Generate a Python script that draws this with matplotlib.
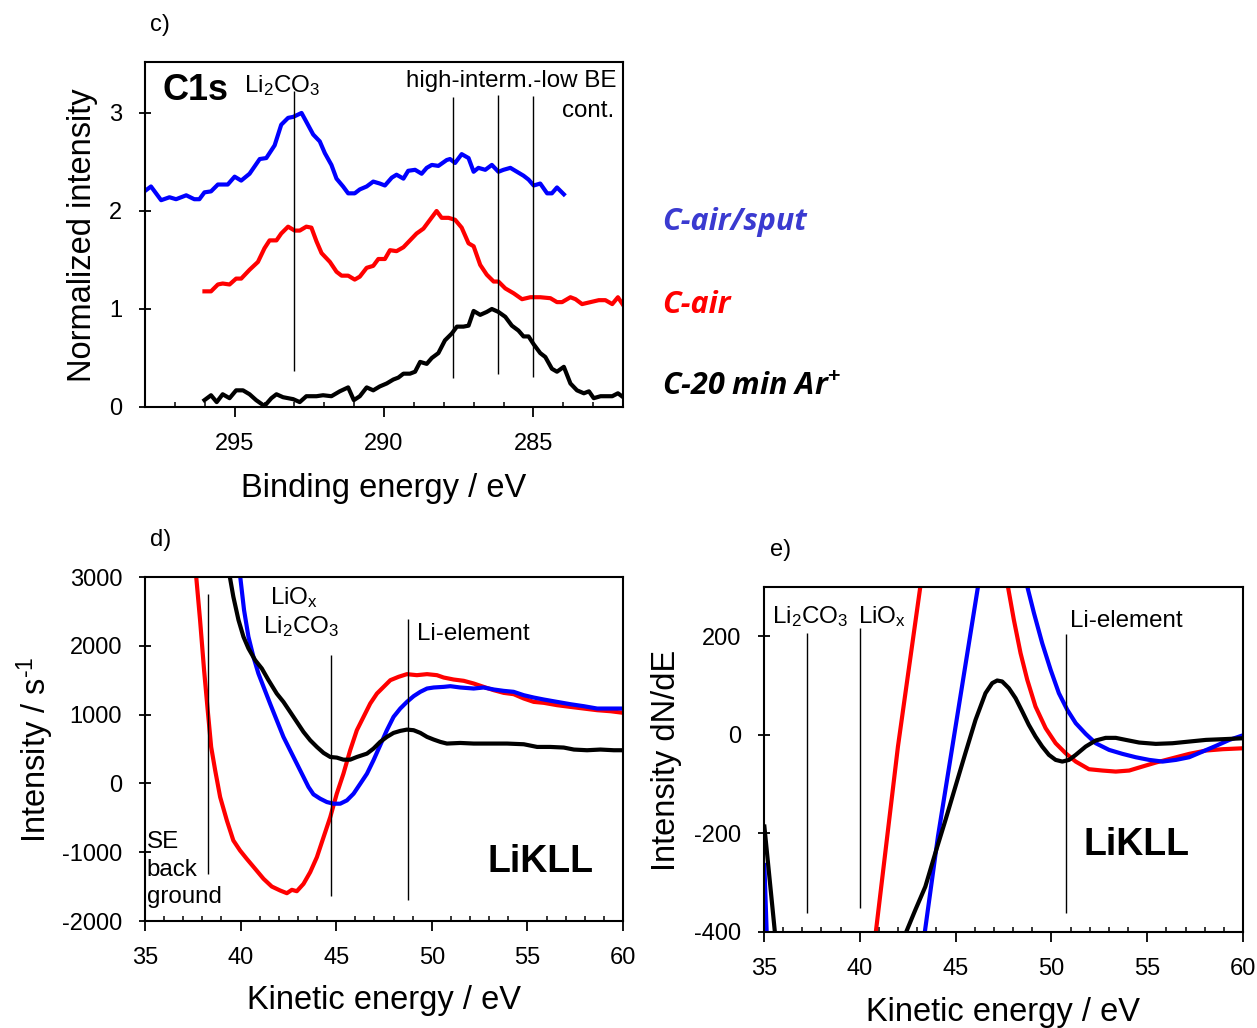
import numpy as np
import matplotlib
matplotlib.use("Agg")
import matplotlib.pyplot as plt

plt.rcParams['font.family'] = ['Liberation Sans', 'DejaVu Sans']
plt.rcParams['mathtext.fontset'] = 'custom'
plt.rcParams['mathtext.rm'] = 'Liberation Sans'
plt.rcParams['mathtext.it'] = 'Liberation Sans:italic'
plt.rcParams['mathtext.bf'] = 'Liberation Sans:bold'
plt.rcParams['axes.unicode_minus'] = False

# ---------------- panel c) C1s ----------------
c_sput_be = [298.02, 297.80, 297.46, 297.18, 296.96, 296.62, 296.35, 296.18, 296.01, 295.79,
             295.56, 295.23, 295.00, 294.78, 294.50, 294.16, 293.94, 293.66, 293.44, 293.21,
             293.04, 292.76, 292.60, 292.37, 292.15, 291.98, 291.76, 291.59, 291.37, 291.20,
             290.98, 290.81, 290.58, 290.36, 290.14, 289.97, 289.74, 289.58, 289.35, 289.19,
             288.96, 288.74, 288.57, 288.40, 288.18, 287.90, 287.79, 287.62, 287.40, 287.17,
             287.00, 286.84, 286.61, 286.39, 286.17, 286.00, 285.77, 285.55, 285.33, 285.16,
             284.99, 284.77, 284.54, 284.38, 284.21, 283.98]
c_sput_int = [2.20, 2.25, 2.11, 2.14, 2.12, 2.16, 2.12, 2.12, 2.19, 2.20,
              2.27, 2.27, 2.35, 2.31, 2.38, 2.53, 2.54, 2.67, 2.88, 2.95,
              2.96, 3.00, 2.91, 2.78, 2.71, 2.59, 2.47, 2.33, 2.25, 2.18,
              2.18, 2.22, 2.25, 2.30, 2.28, 2.26, 2.34, 2.37, 2.33, 2.41,
              2.42, 2.38, 2.44, 2.47, 2.46, 2.52, 2.53, 2.49, 2.58, 2.54,
              2.40, 2.44, 2.42, 2.47, 2.40, 2.42, 2.44, 2.40, 2.36, 2.32,
              2.26, 2.28, 2.18, 2.18, 2.24, 2.17]

c_air_be = [296.01, 295.79, 295.56, 295.40, 295.17, 294.95, 294.78, 294.50, 294.22, 294.00,
            293.83, 293.60, 293.44, 293.21, 292.99, 292.82, 292.60, 292.43, 292.26, 292.09,
            291.81, 291.59, 291.42, 291.20, 290.98, 290.81, 290.58, 290.36, 290.19, 289.97,
            289.80, 289.58, 289.35, 289.13, 288.91, 288.68, 288.46, 288.24, 288.07, 287.84,
            287.62, 287.40, 287.17, 287.00, 286.78, 286.56, 286.33, 286.17, 285.94, 285.66,
            285.38, 285.10, 284.77, 284.43, 284.21, 284.04, 283.76, 283.59, 283.37, 283.09,
            282.81, 282.59, 282.36, 282.17, 281.95]
c_air_int = [1.18, 1.18, 1.25, 1.26, 1.25, 1.31, 1.31, 1.40, 1.48, 1.62,
             1.70, 1.70, 1.77, 1.84, 1.80, 1.80, 1.84, 1.83, 1.69, 1.57,
             1.48, 1.38, 1.34, 1.34, 1.30, 1.33, 1.42, 1.44, 1.51, 1.51,
             1.60, 1.59, 1.63, 1.70, 1.77, 1.82, 1.91, 2.00, 1.93, 1.93,
             1.91, 1.83, 1.67, 1.64, 1.45, 1.35, 1.28, 1.28, 1.21, 1.16,
             1.10, 1.12, 1.12, 1.11, 1.07, 1.07, 1.12, 1.10, 1.05, 1.07,
             1.09, 1.09, 1.05, 1.12, 1.02]

c_ar_be = [296.01, 295.79, 295.60, 295.40, 295.17, 294.95, 294.72, 294.50, 294.28, 294.00,
           293.77, 293.60, 293.38, 293.04, 292.82, 292.60, 292.26, 292.04, 291.76, 291.48,
           291.20, 291.01, 290.81, 290.58, 290.36, 290.14, 289.91, 289.69, 289.52, 289.35,
           289.13, 288.96, 288.79, 288.57, 288.40, 288.18, 287.96, 287.73, 287.56, 287.34,
           287.17, 287.00, 286.78, 286.56, 286.39, 286.17, 285.94, 285.72, 285.50, 285.33,
           285.16, 284.99, 284.77, 284.60, 284.38, 284.21, 283.98, 283.76, 283.54, 283.31,
           283.14, 282.98, 282.75, 282.53, 282.36, 282.17, 281.95]
c_ar_int = [0.07, 0.12, 0.05, 0.13, 0.09, 0.17, 0.17, 0.13, 0.07, 0.01,
            0.09, 0.13, 0.10, 0.08, 0.05, 0.11, 0.11, 0.12, 0.11, 0.16,
            0.20, 0.07, 0.11, 0.20, 0.17, 0.21, 0.24, 0.28, 0.30, 0.34,
            0.34, 0.36, 0.46, 0.44, 0.50, 0.55, 0.68, 0.75, 0.82, 0.82,
            0.83, 0.98, 0.94, 0.97, 1.00, 0.97, 0.92, 0.83, 0.78, 0.72,
            0.72, 0.64, 0.55, 0.51, 0.39, 0.36, 0.41, 0.24, 0.17, 0.14,
            0.16, 0.09, 0.11, 0.11, 0.11, 0.14, 0.09]

c_marker_be = [293.0, 287.7, 286.2, 285.0]
c_marker_lo = [0.37, 0.30, 0.34, 0.31]
c_marker_hi = [3.22, 3.16, 3.18, 3.17]

# ---------------- panel d) LiKLL N(E) ----------------
d_air_ke = [37.67, 37.88, 38.09, 38.28, 38.46, 38.67, 38.93, 39.28, 39.62, 39.97,
            40.32, 40.76, 41.20, 41.63, 42.07, 42.42, 42.68, 42.94, 43.29, 43.64,
            43.99, 44.34, 44.69, 45.03, 45.38, 45.73, 46.08, 46.43, 46.78, 47.13,
            47.48, 47.83, 48.26, 48.70, 49.22, 49.75, 50.27, 50.62, 51.14, 51.67,
            52.19, 52.71, 53.24, 53.76, 54.28, 54.81, 55.33, 55.86, 56.55, 57.25,
            57.95, 58.65, 59.35, 60.04]
d_air_int = [3029, 2374, 1646, 1064, 530, 190, -198, -538, -829, -975,
             -1096, -1241, -1387, -1499, -1557, -1596, -1547, -1567, -1460, -1290,
             -1072, -780, -489, -150, 142, 481, 773, 967, 1161, 1306,
             1403, 1500, 1549, 1588, 1573, 1588, 1573, 1539, 1510, 1491,
             1452, 1403, 1355, 1316, 1297, 1234, 1185, 1171, 1137, 1112,
             1088, 1064, 1049, 1025]

d_sput_ke = [39.97, 40.18, 40.41, 40.67, 40.93, 41.20, 41.54, 41.89, 42.24, 42.59,
             42.94, 43.29, 43.55, 43.81, 44.16, 44.51, 44.86, 45.21, 45.56, 45.91,
             46.26, 46.61, 46.95, 47.30, 47.65, 48.00, 48.35, 48.70, 49.05, 49.40,
             49.75, 50.10, 50.62, 50.97, 51.49, 52.19, 52.71, 53.24, 53.76, 54.28,
             54.81, 55.33, 55.86, 56.55, 57.25, 57.95, 58.65, 59.35, 60.04]
d_sput_int = [3029, 2520, 2131, 1840, 1598, 1404, 1161, 918, 676, 481,
              287, 93, -52, -159, -222, -271, -295, -295, -247, -149,
              -4, 142, 336, 554, 773, 967, 1088, 1185, 1268, 1331,
              1379, 1394, 1403, 1413, 1394, 1379, 1394, 1365, 1345, 1331,
              1282, 1248, 1219, 1185, 1151, 1122, 1088, 1088, 1088]

d_ar_ke = [39.42, 39.62, 39.89, 40.15, 40.41, 40.76, 41.11, 41.46, 41.89, 42.24,
           42.59, 42.94, 43.29, 43.64, 43.99, 44.34, 44.69, 45.03, 45.38, 45.73,
           46.08, 46.61, 46.95, 47.30, 47.65, 48.00, 48.35, 48.70, 49.05, 49.40,
           49.75, 50.10, 50.45, 50.79, 51.49, 52.19, 53.06, 53.94, 54.81, 55.51,
           56.20, 56.90, 57.43, 58.12, 58.82, 59.52, 60.04]
d_ar_int = [3029, 2714, 2374, 2131, 1962, 1792, 1670, 1500, 1306, 1185,
            1040, 894, 748, 627, 530, 443, 384, 375, 345, 345,
            384, 433, 506, 603, 676, 734, 763, 782, 773, 734,
            676, 637, 603, 579, 588, 579, 579, 579, 569, 530,
            530, 521, 492, 482, 492, 482, 482]

d_marker_ke = [38.32, 44.72, 48.74]
d_marker_lo = [-1324, -1630, -1693]
d_marker_hi = [2753, 1864, 2384]

# ---------------- panel e) LiKLL dN/dE ----------------
nan = np.nan
e_air_ke = [40.84, 41.99, 43.16, nan,
            47.73, 48.04, 48.39, 48.74, 49.17, 49.70, 50.22, 50.74, 51.27, 51.96,
            52.66, 53.36, 54.06, 54.75, 55.45, 56.32, 57.19, 58.07, 58.94, 60.07]
e_air_int = [-399, -24, 301, nan,
             301, 233.5, 165.8, 111.7, 57.5, 13.5, -16.9, -37.2, -54.2, -69.7,
             -72.4, -74.5, -72.4, -64.3, -56.2, -47.4, -38.6, -31.8, -29.1, -27.1]

e_sput_ke = [35.02, 35.14, nan,
             43.39, 44.08, 46.17, nan,
             48.74, 49.09, 49.52, 49.96, 50.39, 50.83, 51.27, 51.79, 52.31, 53.01,
             53.71, 54.40, 55.10, 55.80, 56.50, 57.19, 57.89, 58.59, 59.29, 60.07]
e_sput_int = [-264, -401, nan,
              -401, -206, 301, nan,
              301, 247, 186, 132, 84.6, 50.7, 23.7, 2, -16.9, -30.5,
              -38.6, -45.4, -50.8, -54.2, -50.8, -45.4, -33.9, -22.3, -10.2, 0]

e_ar_ke = [35.02, 35.57, nan,
           42.41, 42.90, 43.42, 43.94, 44.47, 44.99, 45.51, 46.04, 46.56, 46.91,
           47.17, 47.43, 47.78, 48.13, 48.48, 48.82, 49.17, 49.52, 49.87, 50.22,
           50.57, 50.92, 51.27, 51.79, 52.31, 52.83, 53.36, 53.88, 54.58, 55.45,
           56.32, 57.19, 58.07, 58.94, 60.07]
e_ar_int = [-186, -401, nan,
            -401, -355, -308, -240, -173, -105, -37.2, 30.4, 84.6, 104.9,
            110.3, 108.3, 94.7, 74.4, 47.4, 20.3, -3.4, -23.7, -40.6, -50.8,
            -54.2, -50.8, -40.6, -23.7, -11.5, -6.1, -6.1, -10.2, -15.6, -18.3,
            -17.0, -13.6, -10.2, -8.8, -6.8]

e_marker_ke = [37.27, 40.02, 50.74]
e_marker_lo = [-362, -352, -362]
e_marker_hi = [206, 217, 205]

BLUE = '#0000ff'
RED = '#ff0000'
BLACK = '#000000'
LW = 3.0
TICK_FS = 17
LABEL_FS = 23.5
ANN_FS = 17.4

W, H = 1257, 1028
fig = plt.figure(figsize=(W / 100, H / 100), dpi=100)


def ax_rect(l, t, r, b):
    return [l / W, 1 - b / H, (r - l) / W, (b - t) / H]


def style(ax):
    for s in ax.spines.values():
        s.set_linewidth(1.5)
    ax.tick_params(axis='both', which='major', labelsize=TICK_FS, width=1.3)
    ax.tick_params(axis='x', which='major', direction='out', length=7, pad=12)
    ax.tick_params(axis='x', which='minor', direction='in', length=3.5, width=1.1)
    ax.tick_params(axis='y', which='major', direction='inout', length=9, pad=12)
    ax.tick_params(axis='y', which='minor', left=False)


# ---- c ----
axc = fig.add_axes(ax_rect(145, 62, 623, 407))
axc.plot(c_sput_be, c_sput_int, color=BLUE, lw=LW)
axc.plot(c_air_be, c_air_int, color=RED, lw=LW)
axc.plot(c_ar_be, c_ar_int, color=BLACK, lw=LW)
axc.vlines(c_marker_be, c_marker_lo, c_marker_hi, color='black', lw=1.0)
axc.set_xlim(298, 282)
axc.set_ylim(0, 3.52)
axc.set_xticks([295, 290, 285])
axc.set_xticks(np.arange(282, 299, 1), minor=True)
axc.set_yticks([0, 1, 2, 3])
style(axc)
axc.text(0.036, 0.89, 'C1s', transform=axc.transAxes, fontsize=26, fontweight='bold',
         va='baseline', ha='left')
axc.text(0.207, 0.913, r'Li$_2$CO$_3$', transform=axc.transAxes, fontsize=ANN_FS,
         va='baseline', ha='left')
axc.text(0.987, 0.928, 'high-interm.-low BE', transform=axc.transAxes, fontsize=ANN_FS,
         va='baseline', ha='right')
axc.text(0.981, 0.841, 'cont.', transform=axc.transAxes, fontsize=ANN_FS,
         va='baseline', ha='right')

# ---- d ----
axd = fig.add_axes(ax_rect(145, 577, 623, 921))
axd.plot(d_air_ke, d_air_int, color=RED, lw=LW)
axd.plot(d_sput_ke, d_sput_int, color=BLUE, lw=LW)
axd.plot(d_ar_ke, d_ar_int, color=BLACK, lw=LW)
axd.vlines(d_marker_ke, d_marker_lo, d_marker_hi, color='black', lw=1.0)
axd.set_xlim(35, 60)
axd.set_ylim(-2000, 3000)
axd.set_xticks([35, 40, 45, 50, 55, 60])
axd.set_xticks(np.arange(35, 61, 1), minor=True)
axd.set_yticks([-2000, -1000, 0, 1000, 2000, 3000])
style(axd)
axd.text(41.54, 2607, r'LiO$_\mathrm{x}$', fontsize=ANN_FS, va='baseline', ha='left')
axd.text(41.19, 2185, r'Li$_2$CO$_3$', fontsize=ANN_FS, va='baseline', ha='left')
axd.text(49.22, 2083, 'Li-element', fontsize=ANN_FS, va='baseline', ha='left')
axd.text(35.09, -946, 'SE', fontsize=ANN_FS, va='baseline', ha='left')
axd.text(35.09, -1339, 'back', fontsize=ANN_FS, va='baseline', ha='left')
axd.text(35.09, -1732, 'ground', fontsize=ANN_FS, va='baseline', ha='left')
axd.text(52.89, -1291, 'LiKLL', fontsize=27, fontweight='bold', va='baseline', ha='left')

# ---- e ----
axe = fig.add_axes(ax_rect(764, 587, 1243, 932))
axe.plot(e_air_ke, e_air_int, color=RED, lw=LW)
axe.plot(e_sput_ke, e_sput_int, color=BLUE, lw=LW)
axe.plot(e_ar_ke, e_ar_int, color=BLACK, lw=LW)
axe.vlines(e_marker_ke, e_marker_lo, e_marker_hi, color='black', lw=1.0)
axe.set_xlim(35, 60)
axe.set_ylim(-400, 300)
axe.set_xticks([35, 40, 45, 50, 55, 60])
axe.set_xticks(np.arange(35, 61, 1), minor=True)
axe.set_yticks([-400, -200, 0, 200])
style(axe)
axe.text(35.40, 227, r'Li$_2$CO$_3$', fontsize=ANN_FS, va='baseline', ha='left')
axe.text(39.93, 227, r'LiO$_\mathrm{x}$', fontsize=ANN_FS, va='baseline', ha='left')
axe.text(50.95, 219, 'Li-element', fontsize=ANN_FS, va='baseline', ha='left')
axe.text(51.70, -244, 'LiKLL', fontsize=27, fontweight='bold', va='baseline', ha='left')

# ---- axis labels (figure coordinates) ----
def ftext(x, y, s, **kw):
    fig.text(x / W, 1 - y / H, s, **kw)

ftext(83, 235, 'Normalized intensity', fontsize=LABEL_FS, rotation=90, ha='center', va='center')
ftext(384, 488, 'Binding energy / eV', fontsize=LABEL_FS, ha='center', va='center')
ftext(35, 750, r'Intensity / s$^{\text{-}1}$', fontsize=LABEL_FS, rotation=90, ha='center', va='center')
ftext(384, 1000, 'Kinetic energy / eV', fontsize=LABEL_FS, ha='center', va='center')
ftext(667, 760, 'Intensity dN/dE', fontsize=LABEL_FS, rotation=90, ha='center', va='center')
ftext(1003, 1012, 'Kinetic energy / eV', fontsize=LABEL_FS, ha='center', va='center')

ftext(150, 25, 'c)', fontsize=17, ha='left', va='center')
ftext(150, 540, 'd)', fontsize=17, ha='left', va='center')
ftext(770, 550, 'e)', fontsize=17, ha='left', va='center')

# ---- sample labels ----
lab_font = ['Open Sans', 'DejaVu Sans']
ftext(662, 222, 'C-air/sput', fontsize=22, color='#3a3ad0', fontweight='bold',
      style='italic', family=lab_font, ha='left', va='center')
ftext(662, 305, 'C-air', fontsize=22, color=RED, fontweight='bold',
      style='italic', family=lab_font, ha='left', va='center')
ftext(662, 387, r'C-20 min Ar$^{\mathbf{+}}$', fontsize=22, color=BLACK, fontweight='bold',
      style='italic', family=lab_font, ha='left', va='center')

fig.savefig('out.png', dpi=100)
